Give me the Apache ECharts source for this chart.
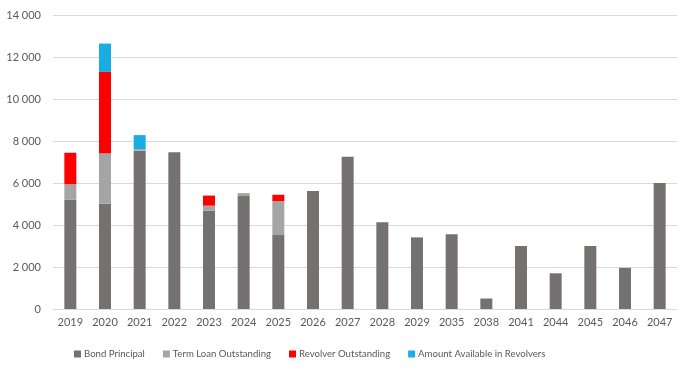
<!DOCTYPE html>
<html><head><meta charset="utf-8">
<script src="https://cdn.jsdelivr.net/npm/echarts@6/dist/echarts.min.js"></script>
<style>html,body{margin:0;padding:0;background:#fff}#c{width:691px;height:370px}</style>
</head><body><div id="c"></div>
<script>
const categories = ['2019','2020','2021','2022','2023','2024','2025','2026','2027','2028','2029','2035','2038','2041','2044','2045','2046','2047'];
const bondPrincipal = [5220,5010,7540,7460,4680,5380,3520,5620,7250,4130,3410,3560,500,3000,1700,3000,1960,6000];
const termLoan = [720,2400,70,0,240,140,1620,0,0,0,0,0,0,0,0,0,0,0];
const revolverOutstanding = [1500,3880,0,0,480,0,300,0,0,0,0,0,0,0,0,0,0,0];
const amountAvailable = [0,1350,670,0,0,0,0,0,0,0,0,0,0,0,0,0,0,0];
const yTicks = {min:0, max:14000, interval:2000};

const chart = echarts.init(document.getElementById('c'), null, {renderer:'canvas'});
const font = 'Lato';
const mk = (name, data, color) => ({name, type:'bar', stack:'a', data, barWidth:12,
  itemStyle:{color}, emphasis:{disabled:true}});
chart.setOption({
  animation:false,
  textStyle:{fontFamily:font},
  grid:{left:53, right:14, top:15, bottom:61},
  legend:{left:69, top:344, itemWidth:7, itemHeight:7, itemGap:18, icon:'rect',
    textStyle:{color:'#595959', fontSize:9.6, fontFamily:font, padding:[0,0,0,-2]},
    data:['Bond Principal','Term Loan Outstanding','Revolver Outstanding','Amount Available in Revolvers']},
  xAxis:{type:'category', data:categories,
    axisLine:{lineStyle:{color:'#D9D9D9'}}, axisTick:{show:false},
    axisLabel:{color:'#595959', fontSize:11, margin:8, interval:0}},
  yAxis:{type:'value', min:yTicks.min, max:yTicks.max, interval:yTicks.interval,
    axisLine:{show:false}, axisTick:{show:false},
    splitLine:{lineStyle:{color:'#D9D9D9'}},
    axisLabel:{color:'#595959', fontSize:11, margin:12,
      formatter:v=>String(v).replace(/\B(?=(\d{3})+(?!\d))/g,' ')}},
  series:[
    mk('Bond Principal', bondPrincipal, '#767171'),
    mk('Term Loan Outstanding', termLoan, '#A5A5A5'),
    mk('Revolver Outstanding', revolverOutstanding, '#FF0000'),
    mk('Amount Available in Revolvers', amountAvailable, '#1AADE3')
  ]
});
</script></body></html>
